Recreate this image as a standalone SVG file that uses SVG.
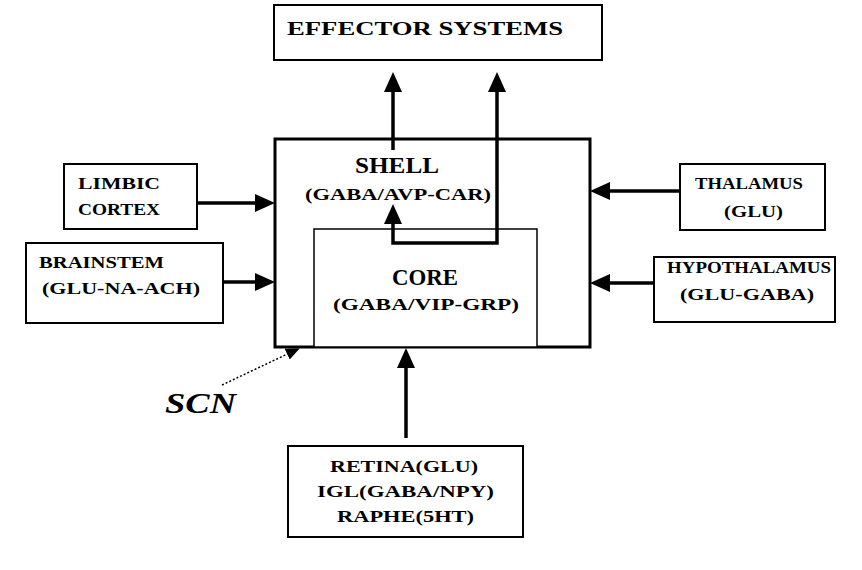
<svg xmlns="http://www.w3.org/2000/svg" width="862" height="570" viewBox="0 0 862 570">
<style>
.box{fill:#fff;stroke:#000;stroke-width:2}
.t{font-family:"Liberation Serif","Times New Roman",serif;font-weight:bold;font-size:17.5px;fill:#000}
.big{font-size:23px}
.eff{font-size:18.5px}
.con{fill:none;stroke:#000;stroke-width:3.5}
</style>
<defs>
<marker id="ah" markerUnits="userSpaceOnUse" markerWidth="20" markerHeight="18" refX="10" refY="9" orient="auto-start-reverse" viewBox="0 0 20 18">
<path d="M0,0 L20,9 L0,18 z" fill="#000"/>
</marker>
<marker id="ahs" markerUnits="userSpaceOnUse" markerWidth="14" markerHeight="12" refX="12" refY="6" orient="auto" viewBox="0 0 14 12">
<path d="M0,0 L14,6 L0,12 z" fill="#000"/>
</marker>
</defs>
<g id="effector">
<rect class="box" x="274" y="5" width="328" height="55"/>
<text class="t eff" x="287" y="35" textLength="276" lengthAdjust="spacingAndGlyphs">EFFECTOR SYSTEMS</text>
</g>
<g id="shell">
<rect x="275" y="139" width="315" height="208" fill="#fff" stroke="#000" stroke-width="3"/>
<text class="t big" x="355" y="173" textLength="84" lengthAdjust="spacingAndGlyphs">SHELL</text>
<text class="t" x="305" y="200" textLength="186" lengthAdjust="spacingAndGlyphs">(GABA/AVP-CAR)</text>
</g>
<g id="core">
<rect x="314" y="229" width="223" height="118" fill="#fff" stroke="#000" stroke-width="1.5"/>
<text class="t big" x="392" y="285" textLength="66" lengthAdjust="spacingAndGlyphs">CORE</text>
<text class="t" x="333" y="310" textLength="186" lengthAdjust="spacingAndGlyphs">(GABA/VIP-GRP)</text>
</g>
<g id="limbic">
<rect class="box" x="64" y="164" width="133" height="65"/>
<text class="t" x="78" y="189" textLength="82" lengthAdjust="spacingAndGlyphs">LIMBIC</text>
<text class="t" x="78" y="215" textLength="82" lengthAdjust="spacingAndGlyphs">CORTEX</text>
</g>
<g id="brainstem">
<rect class="box" x="26" y="243" width="197" height="80"/>
<text class="t" x="39" y="268" textLength="125" lengthAdjust="spacingAndGlyphs">BRAINSTEM</text>
<text class="t" x="42" y="294" textLength="158" lengthAdjust="spacingAndGlyphs">(GLU-NA-ACH)</text>
</g>
<g id="thalamus">
<rect class="box" x="680" y="164" width="145" height="66"/>
<text class="t" x="695" y="189" textLength="108" lengthAdjust="spacingAndGlyphs">THALAMUS</text>
<text class="t" x="724" y="217" textLength="59" lengthAdjust="spacingAndGlyphs">(GLU)</text>
</g>
<g id="hypothalamus">
<rect class="box" x="654" y="257" width="181" height="65"/>
<text class="t" x="667" y="273" textLength="164" lengthAdjust="spacingAndGlyphs">HYPOTHALAMUS</text>
<text class="t" x="680" y="300" textLength="134" lengthAdjust="spacingAndGlyphs">(GLU-GABA)</text>
</g>
<g id="inputs">
<rect class="box" x="288" y="446" width="235" height="91"/>
<text class="t" x="330" y="472" textLength="148" lengthAdjust="spacingAndGlyphs">RETINA(GLU)</text>
<text class="t" x="317" y="497" textLength="177" lengthAdjust="spacingAndGlyphs">IGL(GABA/NPY)</text>
<text class="t" x="337" y="522" textLength="137" lengthAdjust="spacingAndGlyphs">RAPHE(5HT)</text>
</g>
<g id="scn">
<text x="165" y="413" font-family="Liberation Serif,'Times New Roman',serif" font-weight="bold" font-style="italic" font-size="30" textLength="71" lengthAdjust="spacingAndGlyphs">SCN</text>
</g>
<g id="connectors">
<line class="con" x1="393" y1="150" x2="393" y2="82" marker-end="url(#ah)"/>
<polyline class="con" points="393,214 393,243 497,243 497,82" marker-start="url(#ah)" marker-end="url(#ah)"/>
<line class="con" x1="197" y1="203" x2="265" y2="203" marker-end="url(#ah)"/>
<line class="con" x1="223" y1="282" x2="265" y2="282" marker-end="url(#ah)"/>
<line class="con" x1="680" y1="191" x2="600" y2="191" marker-end="url(#ah)"/>
<line class="con" x1="654" y1="283" x2="600" y2="283" marker-end="url(#ah)"/>
<line class="con" x1="406" y1="438" x2="406" y2="358" marker-end="url(#ah)"/>
<line x1="222" y1="385" x2="298" y2="349" stroke="#000" stroke-width="1.5" stroke-dasharray="2,2" marker-end="url(#ahs)"/>
</g>
</svg>
